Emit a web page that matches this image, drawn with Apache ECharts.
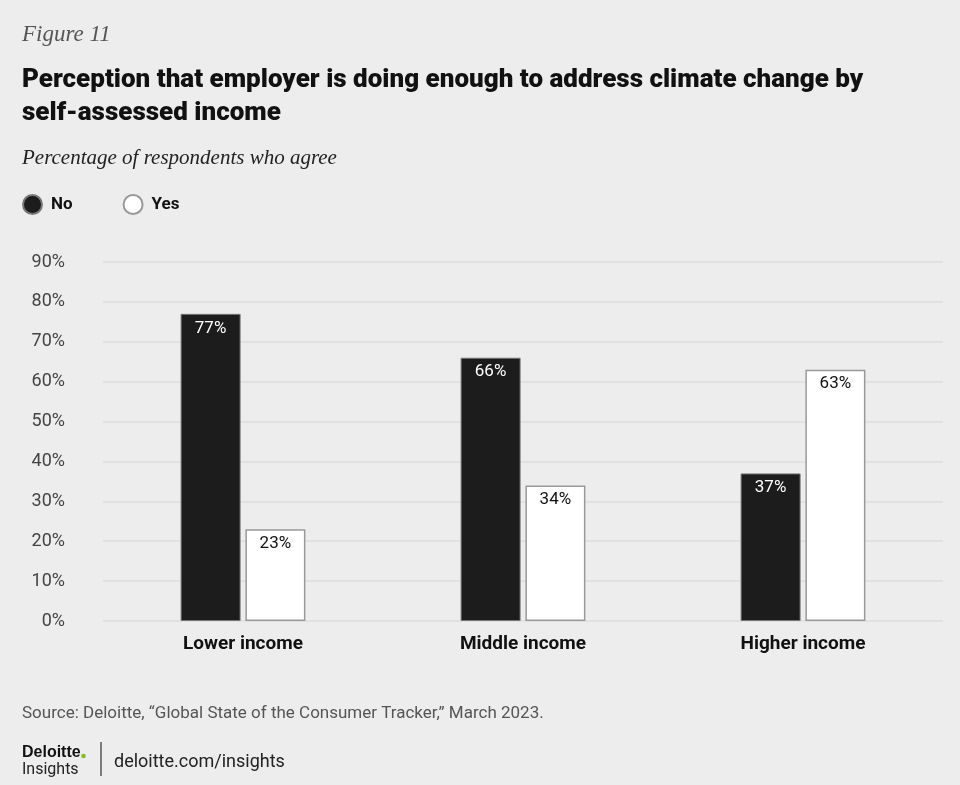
<!DOCTYPE html>
<html><head><meta charset="utf-8">
<script src="https://cdn.jsdelivr.net/npm/echarts@6/dist/echarts.min.js"></script>
<style>html,body{margin:0;padding:0;background:#ededed}#c{width:960px;height:785px}</style>
</head><body><div id="c"></div>
<script>
const categories = ['Lower income', 'Middle income', 'Higher income'];
const noValues = [77, 66, 37];
const yesValues = [23, 34, 63];
const yTicks = [0, 10, 20, 30, 40, 50, 60, 70, 80, 90];

const COND = '"Roboto","Noto Sans",sans-serif';
const SERIF = '"Liberation Serif","DejaVu Serif",serif';
const chart = echarts.init(document.getElementById('c'));
chart.setOption({
  backgroundColor: '#ededed',
  animation: false,
  title: [
    { text: 'Figure 11', left: 17, top: 18, textStyle: { fontFamily: SERIF, fontStyle: 'italic', fontWeight: 'normal', fontSize: 23, color: '#555' } },
    { text: 'Perception that employer is doing enough to address climate change by\nself-assessed income', left: 17, top: 59,
      textStyle: { fontFamily: COND, fontWeight: 900, fontSize: 26, lineHeight: 33, color: '#111' } },
    { text: 'Percentage of respondents who agree', left: 17, top: 143, textStyle: { fontFamily: SERIF, fontStyle: 'italic', fontWeight: 'normal', fontSize: 21, color: '#222' } },
    { text: 'Source: Deloitte, \u201cGlobal State of the Consumer Tracker,\u201d March 2023.', left: 17, top: 700, textStyle: { fontFamily: COND, fontWeight: 'normal', fontSize: 17, color: '#555' } },
    { text: 'Deloitte', left: 17, top: 740, textStyle: { fontFamily: '"Liberation Sans",sans-serif', fontWeight: 'bold', fontSize: 16, color: '#111' } },
    { text: 'Insights', left: 17, top: 757, textStyle: { fontFamily: COND, fontWeight: 'normal', fontSize: 16, color: '#222' } },
    { text: 'deloitte.com/insights', left: 109, top: 748, textStyle: { fontFamily: COND, fontWeight: 'normal', fontSize: 18, color: '#222' } }
  ],
  graphic: [
    { type: 'line', shape: { x1: 101, y1: 742, x2: 101, y2: 776 }, style: { stroke: '#333', lineWidth: 1.2 } },
    { type: 'circle', shape: { cx: 83.5, cy: 756, r: 2.3 }, style: { fill: '#86bc25' } }
  ],
  legend: {
    left: 17, top: 189, icon: 'circle', itemWidth: 19, itemHeight: 19, itemGap: 50,
    textStyle: { fontFamily: COND, fontWeight: 'bold', fontSize: 17, color: '#111', padding: [0, 0, 0, 4] },
    data: ['No', 'Yes']
  },
  grid: { left: 103, top: 262, width: 840, height: 359 },
  xAxis: {
    type: 'category', data: categories,
    axisLine: { show: false }, axisTick: { show: false },
    axisLabel: { margin: 14, fontFamily: COND, fontWeight: 'bold', fontSize: 19, color: '#111' }
  },
  yAxis: {
    type: 'value', min: 0, max: 90, interval: 10,
    axisLine: { show: false }, axisTick: { show: false },
    splitLine: { lineStyle: { color: '#dcdcdc', width: 1.5 } },
    axisLabel: { margin: 38, fontFamily: COND, fontSize: 18, color: '#444',
      formatter: v => yTicks.includes(v) ? v + '%' : '' }
  },
  series: [
    { name: 'No', type: 'bar', data: noValues, barWidth: 60, barGap: '8%',
      itemStyle: { color: '#1c1c1c', borderColor: '#777', borderWidth: 1 },
      label: { show: true, position: 'insideTop', distance: 6, formatter: '{c}%', fontFamily: COND, fontSize: 17, color: '#fff' } },
    { name: 'Yes', type: 'bar', data: yesValues, barWidth: 60,
      itemStyle: { color: '#ffffff', borderColor: '#999', borderWidth: 1.5 },
      label: { show: true, position: 'insideTop', distance: 6, formatter: '{c}%', fontFamily: COND, fontSize: 17, color: '#111' } }
  ]
});
</script></body></html>
